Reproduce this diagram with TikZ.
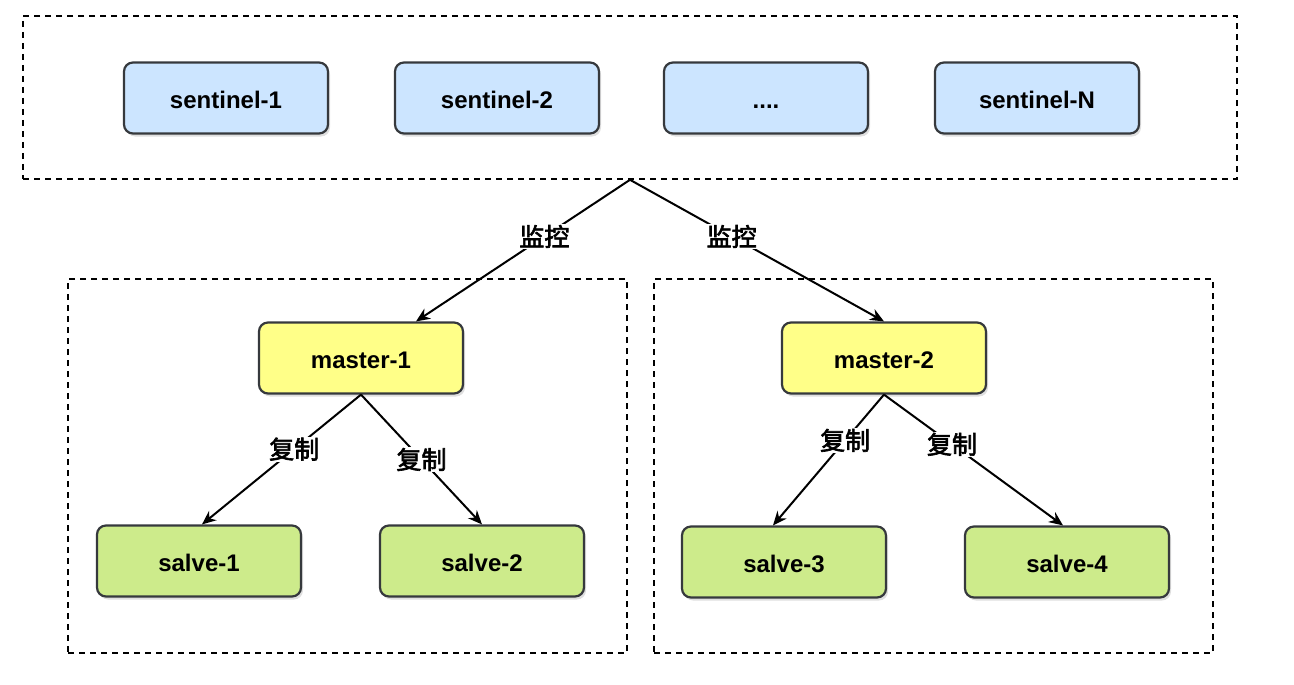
\documentclass[tikz,border=0pt]{standalone}
\usepackage{fontspec}
\setmainfont{Liberation Sans}
\newfontfamily\cjk[AutoFakeBold=2.5]{Noto Sans CJK SC}
\usetikzlibrary{arrows.meta,shadows,positioning}
\definecolor{strokec}{HTML}{36393D}
\definecolor{bluef}{HTML}{CCE5FF}
\definecolor{yellowf}{HTML}{FFFF88}
\definecolor{greenf}{HTML}{CDEB8B}
\tikzset{
  box/.style={draw=strokec, line width=2.2pt, rounded corners=9pt, minimum width=204pt, minimum height=71pt,
    font=\fontsize{24}{27}\selectfont\bfseries, text height=20pt, text depth=0pt,
    drop shadow={opacity=0.25, shadow xshift=2pt, shadow yshift=-3pt}},
  sent/.style={box, fill=bluef},
  mast/.style={box, fill=yellowf},
  slv/.style={box, fill=greenf},
  grp/.style={draw=black, line width=1.6pt, dash pattern=on 6pt off 5pt, inner sep=0pt},
  conn/.style={draw=black, line width=2pt, -{Stealth[length=14pt,width=12pt]}},
  lbl/.style={fill=white, inner sep=1pt, font=\fontsize{25}{27}\selectfont\cjk\bfseries},
}
\begin{document}
\begin{tikzpicture}[x=1pt,y=-1pt]
\useasboundingbox (0,0) rectangle (1294,685);
% groups
\node[grp, minimum width=1214pt, minimum height=163pt] (top) at (630,97.5) {};
\node[grp, minimum width=559pt, minimum height=374pt] (gl) at (347.5,466) {};
\node[grp, minimum width=559pt, minimum height=374pt] (gr) at (933.5,466) {};
% sentinels
\node[sent] (s1n) at (226,98) {sentinel-1};
\node[sent] (s2n) at (497,98) {sentinel-2};
\node[sent] (s3n) at (766,98) {....};
\node[sent] (s4n) at (1037,98) {sentinel-N};
% masters
\node[mast] (m1) at (361,358) {master-1};
\node[mast] (m2) at (884,358) {master-2};
% slaves
\node[slv] (v1) at (199,561) {salve-1};
\node[slv] (v2) at (482,561) {salve-2};
\node[slv] (v3) at (784,562) {salve-3};
\node[slv] (v4) at (1067,562) {salve-4};
% connectors
\draw[conn] (top.south) -- node[lbl, pos=0.4] {监控} ([xshift=55pt]m1.north);
\draw[conn] (top.south) -- node[lbl, pos=0.4] {监控} (m2.north);
\draw[conn] (m1.south) -- node[lbl, pos=0.42] {复制} ([xshift=3pt]v1.north);
\draw[conn] (m1.south) -- node[lbl, pos=0.5] {复制} (v2.north);
\draw[conn] (m2.south) -- node[lbl, pos=0.35] {复制} ([xshift=-11pt]v3.north);
\draw[conn] (m2.south) -- node[lbl, pos=0.38] {复制} ([xshift=-4pt]v4.north);
\end{tikzpicture}
\end{document}
